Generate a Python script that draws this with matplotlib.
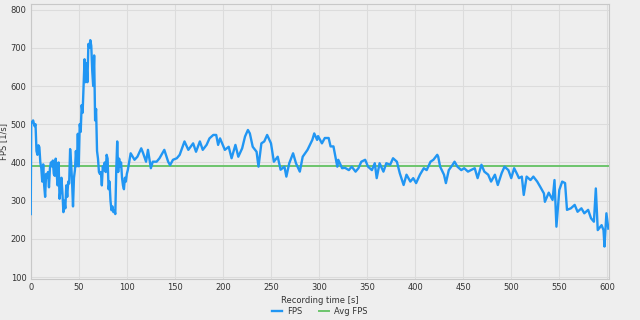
import matplotlib
matplotlib.use("Agg")
import matplotlib.pyplot as plt

# recording time [s] and FPS
time_s = [0, 0.5, 1, 2.5, 4, 5, 6, 7, 8, 9, 10, 11, 12, 13, 14, 15, 16, 17, 18, 19,
          20, 21, 22, 23, 24, 25, 26, 27, 28, 29, 30, 31, 32, 33, 34, 35, 36, 37, 38, 39,
          40, 41, 42, 43, 44, 45, 46, 47, 48, 49, 50, 51, 52, 53, 54, 55, 56, 57, 58, 59,
          60, 61, 62, 63, 64, 65, 66, 67, 68, 69, 70, 71, 72, 73, 74, 75, 76, 77, 78, 79,
          80, 81, 82, 83, 84, 85, 86, 87, 88, 89, 90, 91, 92, 93, 94, 95, 96, 97, 98, 99,
          100, 101, 104, 108, 111, 115, 117, 120, 122, 125, 127, 131, 134, 139, 143, 145,
          148, 152, 155, 160, 164, 169, 172, 176, 179, 183, 186, 190,
          193, 195, 197, 202, 206, 209, 213, 216, 220, 223, 226, 228, 231, 235, 237, 240,
          243, 246, 250, 253, 257, 260, 264, 266, 269, 273, 276, 280, 283, 288, 293, 295,
          298, 299, 303, 306, 310, 312, 315, 317, 319, 320, 324, 327, 331, 334, 338, 341,
          344, 348, 351, 355, 358, 360, 363, 367, 370, 374, 377, 381, 384, 388, 391, 395,
          398, 401, 405, 409, 412, 416, 419, 423, 424, 426, 430, 432, 435, 439, 441, 444,
          448, 451, 455, 458, 462, 465, 469, 472, 476, 479, 483, 486, 490, 493, 497, 500,
          503, 506, 508, 511, 513, 516, 520, 523, 527, 530, 534, 535, 539, 543, 545, 547,
          550, 553, 556, 558, 562, 566, 569, 573, 576, 580, 583, 586, 588, 590, 594, 596,
          597, 599, 601]
fps = [265, 500, 505, 510, 495, 500, 430, 420, 445, 440, 400, 385, 350, 395, 340, 310, 370, 360, 375, 335,
       385, 400, 390, 405, 370, 365, 410, 370, 340, 400, 305, 330, 360, 320, 270, 300, 280, 340, 310, 350,
       345, 435, 400, 350, 285, 360, 380, 430, 390, 475, 390, 500, 480, 550, 530, 600, 670, 610, 660, 610,
       710, 700, 720, 705, 640, 600, 680, 510, 540, 430, 410, 375, 370, 375, 340, 390, 380, 400, 375, 420,
       410, 330, 350, 300, 275, 285, 270, 275, 265, 380, 455, 375, 410, 390, 400, 360, 340, 330, 360, 350,
       370, 380, 424, 407, 415, 437, 424, 402, 433, 385, 402, 402, 411, 433, 402, 393,
       407, 411, 420, 455, 433, 450, 428, 455, 433, 446, 463, 472,
       472, 446, 463, 433, 441, 411, 446, 415, 437, 468, 485, 476, 441, 428, 389, 450,
       455, 472, 450, 402, 415, 381, 389, 363, 398, 424, 398, 376, 415, 433, 459, 476,
       459, 469, 450, 464, 464, 442, 442, 415, 389, 407, 385, 386, 380, 389, 376, 385,
       402, 407, 389, 380, 398, 359, 398, 376, 398, 394, 411, 402, 372, 341, 368, 350,
       359, 346, 368, 385, 380, 402, 407, 420, 415, 389, 368, 346, 380, 394, 402, 389,
       380, 385, 376, 380, 385, 359, 394, 376, 368, 350, 368, 341, 372, 389, 380, 359,
       385, 370, 359, 363, 315, 363, 354, 363, 350, 337, 319, 297, 321, 302, 354, 232,
       328, 350, 346, 276, 280, 289, 271, 280, 267, 276, 254, 245, 332, 223, 236, 223,
       180, 267, 227]
avg_fps = 392

bg = "#eeeeee"
fig = plt.figure(figsize=(6.4, 3.2), dpi=100, facecolor=bg)
ax = fig.add_axes([0.048, 0.128, 0.904, 0.86], facecolor=bg)

ax.plot(time_s, fps, color="#2196f3", lw=1.7, label="FPS", zorder=3)
ax.axhline(avg_fps, color="#6cc46c", lw=1.4, label="Avg FPS", zorder=2)

ax.set_xlim(0, 602)
ax.set_ylim(95, 815)
ax.set_xticks(range(0, 601, 50))
ax.set_yticks(range(100, 801, 100))
ax.grid(True, color="#dcdcdc", lw=0.8)
ax.set_axisbelow(True)
ax.tick_params(length=0, labelsize=6, colors="#333333", pad=3)
for s in ax.spines.values():
    s.set_color("#c8c8c8")
    s.set_linewidth(0.8)

ax.set_xlabel("Recording time [s]", fontsize=6, color="#333333", labelpad=3)
ax.set_ylabel("FPS [1/s]", fontsize=6, color="#333333")
ax.yaxis.set_label_coords(-0.039, 0.5)

leg = fig.legend(loc="lower center", bbox_to_anchor=(0.5, -0.01), ncol=2, frameon=False,
                 fontsize=6, handlelength=1.2, columnspacing=2.0, handletextpad=0.6)
for t in leg.get_texts():
    t.set_color("#333333")

fig.savefig("out.png", dpi=100, facecolor=bg)
